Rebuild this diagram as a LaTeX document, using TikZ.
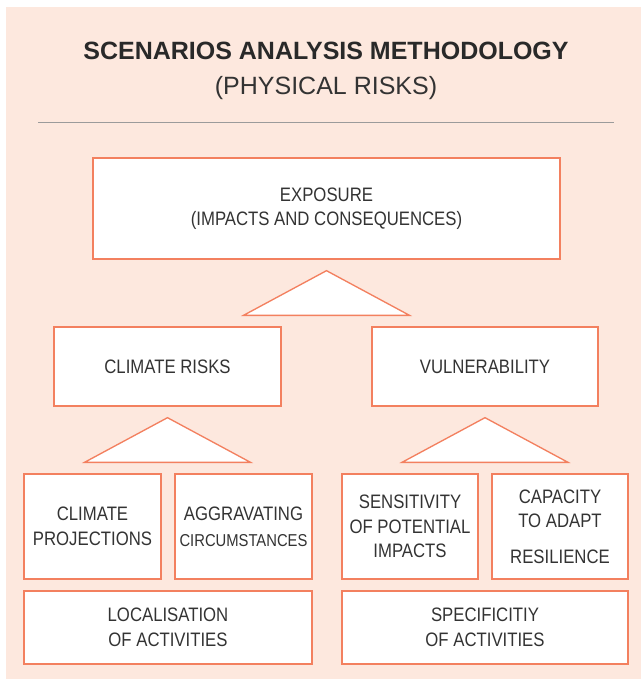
\documentclass[tikz,border=0pt]{standalone}
\usepackage{fontspec}
\setmainfont{Liberation Sans}
\newfontfamily\narrowfont[FakeStretch=0.86]{Liberation Sans}
\usetikzlibrary{calc}
\definecolor{PeachBack}{HTML}{FDE8DE}
\definecolor{CoralLine}{HTML}{F3805F}
\definecolor{InkGray}{HTML}{333333}
\definecolor{RuleGray}{HTML}{9B9B9B}

\begin{document}
\begin{tikzpicture}[x=0.75pt,y=-0.75pt,
    box/.style={draw=CoralLine,fill=white,line width=1pt,inner sep=0pt,align=center,
      text=InkGray,font=\narrowfont\fontsize{14.6}{18.4}\selectfont},
    boxsize/.style 2 args={minimum width=#1*0.75pt,minimum height=#2*0.75pt},
    wedge/.style={draw=CoralLine,fill=white,line width=1pt,line join=miter}]
  \useasboundingbox (0,0) rectangle (641,679);
  \fill[PeachBack] (6,7) rectangle (641,679);

  % heading
  \node[text=InkGray!80!black,font=\bfseries\fontsize{18.75}{22}\selectfont] (title) at (326,50.5)
    {SCENARIOS ANALYSIS METHODOLOGY};
  \node[text=InkGray,font=\fontsize{18.75}{22}\selectfont] (subtitle) at (326,88.5)
    {(PHYSICAL RISKS)};
  \draw[RuleGray,line width=0.75pt] (38,122) -- (614,122);

  % boxes
  \node[box,boxsize={467}{101}] (expo) at (326.5,208.5) {EXPOSURE\\(IMPACTS AND CONSEQUENCES)};
  \node[box,boxsize={227}{79}] (risks) at (167.5,366.5) {CLIMATE RISKS};
  \node[box,boxsize={226}{79}] (vuln) at (485,366.5) {VULNERABILITY};
  \node[box,boxsize={137}{105}] (proj) at (92.5,526.5) {CLIMATE\\PROJECTIONS};
  \node[box,boxsize={137}{105}] (aggr) at (243.5,526.5)
    {AGGRAVATING\\[1pt]{\fontsize{12.9}{14}\selectfont CIRCUMSTANCES}};
  \node[box,boxsize={288}{73}] (local) at (168,627.5) {LOCALISATION\\OF ACTIVITIES};
  \node[box,boxsize={136}{105}] (sens) at (410,526.5) {SENSITIVITY\\OF POTENTIAL\\IMPACTS};
  \node[box,boxsize={136}{105}] (capa) at (560,526.5) {CAPACITY\\TO ADAPT\\[8pt]RESILIENCE};
  \node[box,boxsize={286}{73}] (spec) at (485,627.5) {SPECIFICITIY\\OF ACTIVITIES};

  % triangles between levels
  \foreach \upper/\lower in {expo/risks,risks/proj,vuln/sens}{%
    \filldraw[wedge] ($(\upper.south)+(0,11)$)
      -- ($(\upper.south |- \lower.north)+(-83,-11)$)
      -- ($(\upper.south |- \lower.north)+(83,-11)$) -- cycle;
  }
\end{tikzpicture}
\end{document}
